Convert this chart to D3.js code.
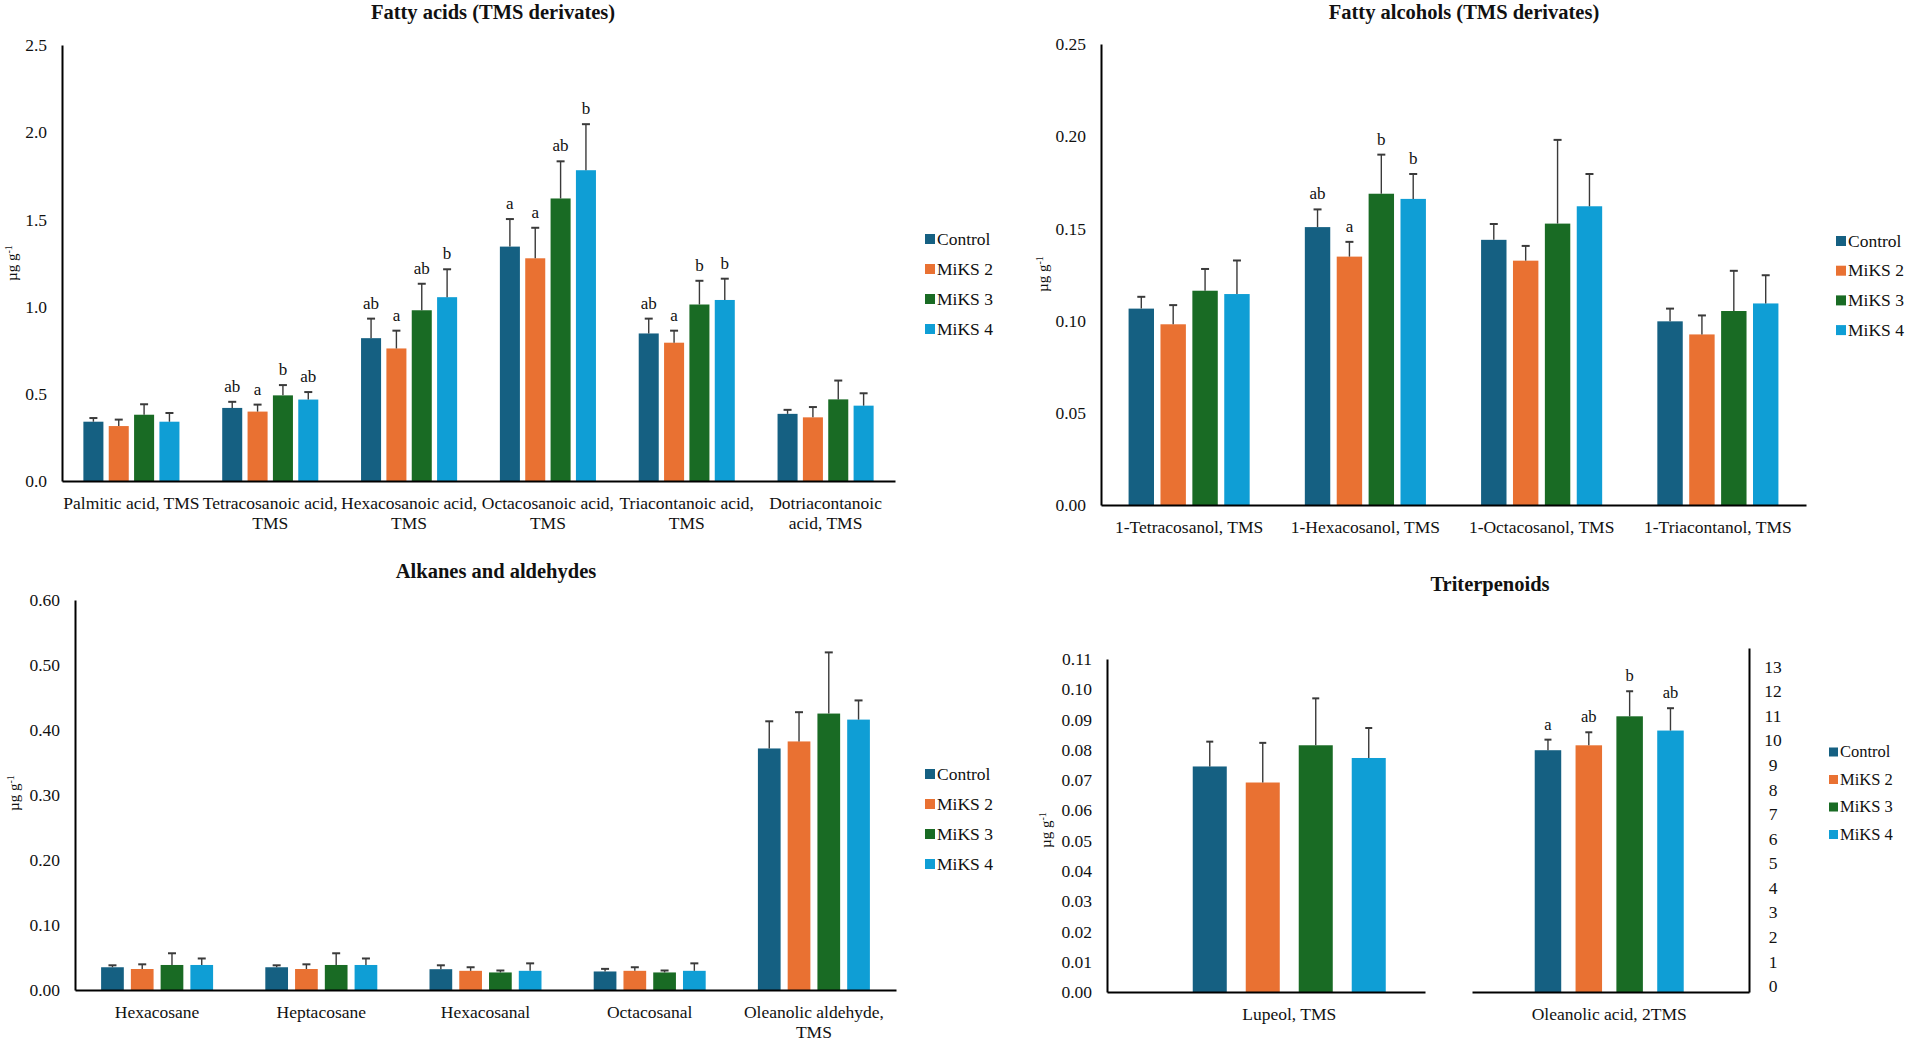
<!DOCTYPE html>
<html><head><meta charset="utf-8">
<script src="https://cdn.jsdelivr.net/npm/d3@7"></script>
<style>
body{margin:0;background:#fff}
svg{display:block}
text{font-family:"Liberation Serif","Times New Roman",serif;fill:#111}
</style>
</head><body>
<svg id="c" width="1907" height="1041"></svg>
<script>
// ---------- data ----------
const seriesNames = ["Control", "MiKS 2", "MiKS 3", "MiKS 4"];
const palette = ["#156082", "#e97132", "#196b24", "#0f9ed5"];

// Fatty acids (TMS derivates)
const faCategories = ["Palmitic acid, TMS", "Tetracosanoic acid, TMS", "Hexacosanoic acid, TMS", "Octacosanoic acid, TMS", "Triacontanoic acid, TMS", "Dotriacontanoic acid, TMS"];
const faTickLines = [["Palmitic acid, TMS"], ["Tetracosanoic acid,", "TMS"], ["Hexacosanoic acid,", "TMS"], ["Octacosanoic acid,", "TMS"], ["Triacontanoic acid,", "TMS"], ["Dotriacontanoic", "acid, TMS"]];
const faMeans = [
  [0.340, 0.315, 0.380, 0.340],
  [0.419, 0.398, 0.491, 0.467],
  [0.819, 0.760, 0.979, 1.054],
  [1.344, 1.277, 1.620, 1.782],
  [0.846, 0.793, 1.012, 1.038],
  [0.385, 0.365, 0.468, 0.432]
];
const faErrors = [
  [0.021, 0.037, 0.060, 0.050],
  [0.035, 0.040, 0.059, 0.043],
  [0.112, 0.102, 0.152, 0.160],
  [0.158, 0.175, 0.213, 0.264],
  [0.085, 0.069, 0.136, 0.122],
  [0.023, 0.059, 0.108, 0.071]
];
const faLetters = [
  ["", "", "", ""],
  ["ab", "a", "b", "ab"],
  ["ab", "a", "ab", "b"],
  ["a", "a", "ab", "b"],
  ["ab", "a", "b", "b"],
  ["", "", "", ""]
];
const faTicks = [0, 0.5, 1.0, 1.5, 2.0, 2.5];

// Fatty alcohols (TMS derivates)
const alcCategories = ["1-Tetracosanol, TMS", "1-Hexacosanol, TMS", "1-Octacosanol, TMS", "1-Triacontanol, TMS"];
const alcTickLines = [["1-Tetracosanol, TMS"], ["1-Hexacosanol, TMS"], ["1-Octacosanol, TMS"], ["1-Triacontanol, TMS"]];
const alcMeans = [
  [0.1065, 0.0980, 0.1162, 0.1144],
  [0.1507, 0.1347, 0.1688, 0.1660],
  [0.1438, 0.1325, 0.1526, 0.1620],
  [0.0996, 0.0925, 0.1052, 0.1093]
];
const alcErrors = [
  [0.0064, 0.0104, 0.0118, 0.0182],
  [0.0096, 0.0080, 0.0212, 0.0135],
  [0.0086, 0.0080, 0.0454, 0.0175],
  [0.0069, 0.0103, 0.0218, 0.0153]
];
const alcLetters = [
  ["", "", "", ""],
  ["ab", "a", "b", "b"],
  ["", "", "", ""],
  ["", "", "", ""]
];
const alcTicks = [0, 0.05, 0.10, 0.15, 0.20, 0.25];

// Alkanes and aldehydes
const akCategories = ["Hexacosane", "Heptacosane", "Hexacosanal", "Octacosanal", "Oleanolic aldehyde, TMS"];
const akTickLines = [["Hexacosane"], ["Heptacosane"], ["Hexacosanal"], ["Octacosanal"], ["Oleanolic aldehyde,", "TMS"]];
const akMeans = [
  [0.0350, 0.0323, 0.0385, 0.0385],
  [0.0350, 0.0323, 0.0385, 0.0385],
  [0.0320, 0.0295, 0.0270, 0.0295],
  [0.0285, 0.0295, 0.0270, 0.0295],
  [0.3716, 0.3824, 0.4253, 0.4160]
];
const akErrors = [
  [0.0030, 0.0072, 0.0180, 0.0100],
  [0.0030, 0.0072, 0.0180, 0.0100],
  [0.0060, 0.0055, 0.0030, 0.0115],
  [0.0040, 0.0055, 0.0030, 0.0115],
  [0.0418, 0.0450, 0.0941, 0.0295]
];
const akTicks = [0, 0.10, 0.20, 0.30, 0.40, 0.50, 0.60];

// Triterpenoids
const lupCategories = ["Lupeol, TMS"];
const lupMeans = [[0.0745, 0.0692, 0.0815, 0.0773]];
const lupErrors = [[0.0082, 0.0131, 0.0155, 0.0099]];
const lupTicks = [0, 0.01, 0.02, 0.03, 0.04, 0.05, 0.06, 0.07, 0.08, 0.09, 0.10, 0.11];
const olaCategories = ["Oleanolic acid, 2TMS"];
const olaMeans = [[9.84, 10.04, 11.22, 10.64]];
const olaErrors = [[0.43, 0.53, 1.02, 0.91]];
const olaLetters = [["a", "ab", "b", "ab"]];
const olaTicks = [0, 1, 2, 3, 4, 5, 6, 7, 8, 9, 10, 11, 12, 13];

// ---------- drawing ----------
const svg = d3.select("#c");
const FS = "17.5px";

function bandScale(cats, range, pad, padOuter, align) {
  return d3.scaleBand().domain(cats).range(range).paddingInner(pad).paddingOuter(padOuter).align(align);
}

function drawBars(g, cats, means, errs, letters, x0, innerPad, y, capW, letterSize) {
  const x1 = d3.scaleBand().domain(seriesNames).range([0, x0.bandwidth()]).paddingInner(innerPad).paddingOuter(0);
  const rows = [];
  cats.forEach((c, i) => seriesNames.forEach((s, j) => rows.push({
    c, s, j, v: means[i][j], e: errs[i][j], l: letters ? letters[i][j] : ""
  })));
  const cx = d => x0(d.c) + x1(d.s) + x1.bandwidth() / 2;
  g.append("g").selectAll("rect").data(rows).join("rect")
    .attr("x", d => x0(d.c) + x1(d.s))
    .attr("width", x1.bandwidth())
    .attr("y", d => y(d.v))
    .attr("height", d => y(0) - y(d.v))
    .attr("fill", d => palette[d.j]);
  const eg = g.append("g").attr("stroke", "#3a3a3a").attr("stroke-width", 1.4);
  eg.selectAll("line.v").data(rows).join("line").attr("class", "v")
    .attr("x1", cx).attr("x2", cx)
    .attr("y1", d => y(d.v)).attr("y2", d => y(d.v + d.e));
  eg.selectAll("line.c").data(rows).join("line").attr("class", "c")
    .attr("x1", d => cx(d) - capW / 2).attr("x2", d => cx(d) + capW / 2)
    .attr("y1", d => y(d.v + d.e)).attr("y2", d => y(d.v + d.e))
    .attr("stroke-width", 2);
  g.append("g").selectAll("text").data(rows.filter(d => d.l)).join("text")
    .attr("x", cx)
    .attr("y", d => y(d.v + d.e) - 10)
    .attr("text-anchor", "middle")
    .style("font-size", letterSize)
    .text(d => d.l);
}

function yAxisLeft(g, y, x, ticks, fmt) {
  const ax = g.append("g").attr("transform", `translate(${x},0)`)
    .call(d3.axisLeft(y).tickValues(ticks).tickFormat(d3.format(fmt)).tickSize(0).tickSizeOuter(0).tickPadding(15));
  ax.select(".domain").attr("stroke", "#000").attr("stroke-width", 2);
  ax.selectAll("text").style("font-size", FS);
  return ax;
}

function xAxisBottom(g, x0, y0, lineMap, firstOffset) {
  const ax = g.append("g").attr("transform", `translate(0,${y0})`)
    .call(d3.axisBottom(x0).tickSize(0).tickSizeOuter(0).tickPadding(0));
  ax.select(".domain").attr("stroke", "#000").attr("stroke-width", 2.2);
  ax.selectAll(".tick text").each(function(d) {
    const t = d3.select(this);
    const lines = lineMap.get(d) || [d];
    t.text(null).attr("y", firstOffset).attr("dy", null).style("font-size", FS);
    lines.forEach((ln, k) => t.append("tspan").attr("x", 0).attr("dy", k === 0 ? "0.32em" : 20).text(ln));
  });
  return ax;
}

function title(txt, x, baseline) {
  svg.append("text").attr("x", x).attr("y", baseline).attr("text-anchor", "middle")
    .style("font-size", "20.5px").style("font-weight", "bold").text(txt);
}

function yTitle(x, y) {
  const t = svg.append("text").attr("transform", `translate(${x},${y}) rotate(-90)`)
    .attr("text-anchor", "middle").attr("dy", "0.32em").style("font-size", "15px");
  t.append("tspan").text("µg g");
  t.append("tspan").attr("dy", "-0.45em").style("font-size", "10px").text("-1");
}

function legend(sqX, txX, y0, step, size, fs) {
  const g = svg.append("g");
  const items = g.selectAll("g").data(seriesNames).join("g")
    .attr("transform", (d, i) => `translate(0,${y0 + i * step})`);
  items.append("rect").attr("x", sqX).attr("y", -size / 2).attr("width", size).attr("height", size)
    .attr("fill", (d, i) => palette[i]);
  items.append("text").attr("x", txX).attr("dy", "0.32em").style("font-size", fs).text(d => d);
}

// ---- Panel A: Fatty acids ----
{
  const g = svg.append("g");
  const y = d3.scaleLinear().domain([0, 2.5]).range([481, 45]);
  const x0 = bandScale(faCategories, [62, 895], 0.308, 0.154, 0.5);
  drawBars(g, faCategories, faMeans, faErrors, faLetters, x0, 0.21, y, 8, "17px");
  yAxisLeft(g, y, 62, faTicks, ".1f");
  xAxisBottom(g, x0, 481, new Map(faCategories.map((c, i) => [c, faTickLines[i]])), 22);
  title("Fatty acids (TMS derivates)", 493, 19);
  yTitle(12, 263);
  legend(925, 937, 239, 30, 10, FS);
}

// ---- Panel B: Fatty alcohols ----
{
  const g = svg.append("g");
  const y = d3.scaleLinear().domain([0, 0.25]).range([505, 44]);
  const x0 = bandScale(alcCategories, [1101, 1806], 0.313, 0.1565, 0.5);
  drawBars(g, alcCategories, alcMeans, alcErrors, alcLetters, x0, 0.203, y, 8, "17px");
  yAxisLeft(g, y, 1101, alcTicks, ".2f");
  xAxisBottom(g, x0, 505, new Map(alcCategories.map((c, i) => [c, alcTickLines[i]])), 22);
  title("Fatty alcohols (TMS derivates)", 1464, 19);
  yTitle(1043, 274);
  legend(1836, 1848, 241, 29.7, 10, FS);
}

// ---- Panel C: Alkanes and aldehydes ----
{
  const g = svg.append("g");
  const y = d3.scaleLinear().domain([0, 0.6]).range([990, 600]);
  const x0 = bandScale(akCategories, [75, 896], 0.318, 0.159, 0.5);
  drawBars(g, akCategories, akMeans, akErrors, null, x0, 0.237, y, 8, "17px");
  yAxisLeft(g, y, 75, akTicks, ".2f");
  xAxisBottom(g, x0, 990, new Map(akCategories.map((c, i) => [c, akTickLines[i]])), 22);
  title("Alkanes and aldehydes", 496, 578);
  yTitle(14, 793);
  legend(925, 937, 774, 30, 10, FS);
}

// ---- Panel D: Triterpenoids ----
{
  const g = svg.append("g");
  const y = d3.scaleLinear().domain([0, 0.11]).range([992, 659]);
  const y2 = d3.scaleLinear().domain([0, 14]).range([992, 648]);
  const xl = bandScale(lupCategories, [1107, 1425], 0, 0.3238, 0.686);
  const xr = bandScale(olaCategories, [1472, 1749], 0, 0.4295, 0.49);
  drawBars(g, lupCategories, lupMeans, lupErrors, null, xl, 0.358, y, 7, "16.5px");
  drawBars(g, olaCategories, olaMeans, olaErrors, olaLetters, xr, 0.351, y2, 7, "16.5px");
  yAxisLeft(g, y, 1107, lupTicks, ".2f");
  xAxisBottom(g, xl, 992, new Map([[lupCategories[0], ["Lupeol, TMS"]]]), 22);
  xAxisBottom(g, xr, 992, new Map([[olaCategories[0], ["Oleanolic acid, 2TMS"]]]), 22);
  const ar = g.append("g").attr("transform", "translate(1749,0)")
    .call(d3.axisRight(y2).tickValues(olaTicks).tickFormat(d3.format("d")).tickSize(0).tickSizeOuter(0).tickPadding(0));
  ar.select(".domain").attr("stroke", "#000").attr("stroke-width", 2);
  ar.selectAll("text").style("font-size", FS).attr("text-anchor", "middle").attr("x", 24).attr("y", -6);
  title("Triterpenoids", 1490, 591);
  yTitle(1046, 830);
  legend(1829, 1840, 752, 27.5, 9, "16.5px");
}
</script>
</body></html>
